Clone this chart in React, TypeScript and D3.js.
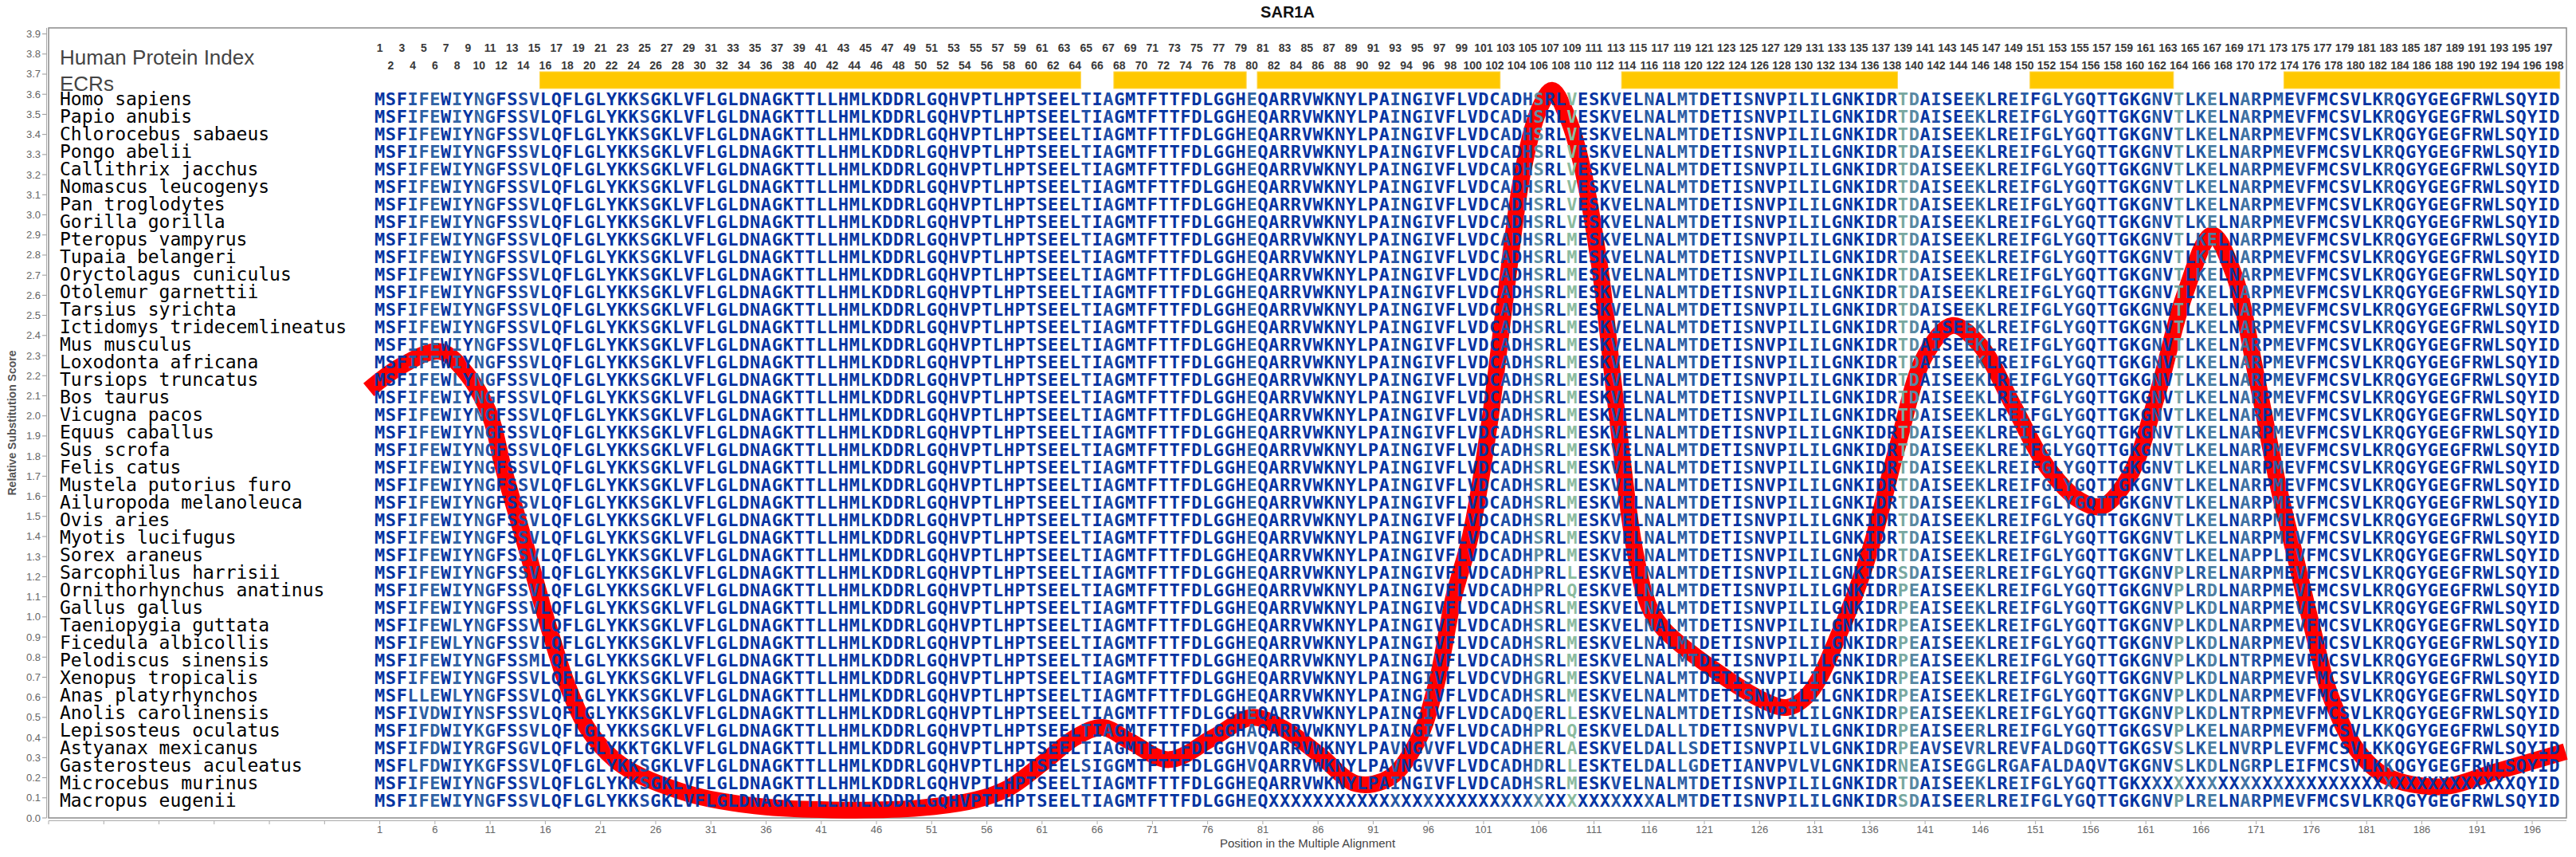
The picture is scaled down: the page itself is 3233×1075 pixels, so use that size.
import React from "react";
import * as d3 from "d3";

const W = 3233;
const H = 1075;

const title = "SAR1A";

const species = [
  "Homo sapiens", "Papio anubis", "Chlorocebus sabaeus", "Pongo abelii", "Callithrix jacchus",
  "Nomascus leucogenys", "Pan troglodytes", "Gorilla gorilla", "Pteropus vampyrus", "Tupaia belangeri",
  "Oryctolagus cuniculus", "Otolemur garnettii", "Tarsius syrichta", "Ictidomys tridecemlineatus", "Mus musculus",
  "Loxodonta africana", "Tursiops truncatus", "Bos taurus", "Vicugna pacos", "Equus caballus",
  "Sus scrofa", "Felis catus", "Mustela putorius furo", "Ailuropoda melanoleuca", "Ovis aries",
  "Myotis lucifugus", "Sorex araneus", "Sarcophilus harrisii", "Ornithorhynchus anatinus", "Gallus gallus",
  "Taeniopygia guttata", "Ficedula albicollis", "Pelodiscus sinensis", "Xenopus tropicalis", "Anas platyrhynchos",
  "Anolis carolinensis", "Lepisosteus oculatus", "Astyanax mexicanus", "Gasterosteus aculeatus", "Microcebus murinus",
  "Macropus eugenii",
];

const humanSeq =
  "MSFIFEWIYNGFSSVLQFLGLYKKSGKLVFLGLDNAGKTTLLHMLKDDRLGQHVPTLHPTSEELTIAGMTFTTFDLGGHE" +
  "QARRVWKNYLPAINGIVFLVDCADHSRLVESKVELNALMTDETISNVPILILGNKIDRTDAISEEKLREIFGLYGQTTGK" +
  "GNVTLKELNARPMEVFMCSVLKRQGYGEGFRWLSQYID";

// substitutions relative to the human sequence, one list per species
const substitutions: string[][] = [
  [], [], [], [], [], [], [], [],
  ["V109M"],
  ["V109M"],
  ["V109M"],
  ["V109M"],
  ["V109M"],
  ["V109M"],
  ["V109M"],
  ["V109M"],
  ["I8L", "V109M"],
  ["V109M"],
  ["V109M"],
  ["V109M"],
  ["V109M"],
  ["V109M"],
  ["V109M"],
  ["V109M"],
  ["V109M"],
  ["V109M"],
  ["S106P", "V109M", "R171P", "M173L"],
  ["S106P", "V109L", "T139S", "K146R", "T164P", "K166R"],
  ["S106P", "V109Q", "T139P", "D140E", "T164P", "K166R", "E167D"],
  ["V109M", "T139P", "D140E", "T164P", "E167D"],
  ["I8L", "V109M", "T139P", "D140E", "T164P", "E167D"],
  ["I8L", "V109M", "T139P", "D140E", "T164P", "E167D"],
  ["V15M", "V109M", "T139P", "D140E", "T164P", "E167D", "A170T"],
  ["A103V", "S106G", "V109M", "T139P", "D140E", "T164P", "E167D"],
  ["I4L", "F5L", "I8L", "V109M", "T139P", "D140E", "T164P", "E167D"],
  ["F5V", "E6D", "G11S", "H105Q", "S106E", "V109L", "T139P", "D140E", "T164P", "E167D", "A170T"],
  ["E6D", "N10K", "E80A", "S106P", "V109Q", "N116D", "M119L", "I129V", "T139P", "D140E", "K146R", "N162S", "T164P", "R183K"],
  ["E6D", "N10R", "S14G", "S25T", "E80V", "I93V", "I96V", "S106E", "V109A", "N116D", "M119L", "T120S", "I131V",
    "T139P", "D140E", "I142V", "E145V", "K146R", "I150V", "G152A", "Y154D", "N162S", "T164S", "A170V", "M173L", "R183K"],
  ["I4L", "E6D", "N10K", "T65S", "A67G", "E80V", "I93V", "I96V", "S106D", "V109L", "V113T", "N116D", "M119L", "T120G",
    "S125A", "I129V", "I131V", "T139N", "D140E", "E145G", "K146G", "E149G", "I150A", "G152A", "Y154D", "G155A", "T157V",
    "T164S", "E167D", "A170G", "M173L", "V175I", "R183K"],
  ["V109M", "X161-194"],
  ["X82-116", "T139S", "K146R", "T164P", "K166R"],
];

const ecrStart = [16, 68, 81, 114, 151, 174];
const ecrEnd = [64, 79, 102, 138, 163, 198];

// smoothed relative substitution score (red curve)
const curvePos = [0, 3, 6.5, 9, 11, 12.2, 14.4, 16.3, 18, 20, 23, 29, 35, 42, 50, 55, 58, 61, 64, 66.5, 69, 72.5,
  76.5, 80, 83, 86, 89.5, 92.5, 95, 96.7, 98.3, 99.8, 101.5, 103, 104.5, 106, 107.2, 108.5, 109.8, 111.5, 113,
  114.7, 116, 117.3, 121.8, 126.5, 128.5, 130.5, 133.4, 136, 138.5, 141, 143.5, 146, 149, 152, 155, 157, 159.5,
  162, 164.5, 167, 169, 171, 173, 174.4, 176.1, 177.7, 180.1, 182.7, 187.7, 192.7, 199];
const curveScore = [2.13, 2.25, 2.32, 2.2, 2.0, 1.74, 1.32, 0.95, 0.66, 0.43, 0.26, 0.12, 0.06, 0.04, 0.05, 0.09,
  0.15, 0.27, 0.4, 0.45, 0.38, 0.29, 0.4, 0.5, 0.44, 0.32, 0.17, 0.2, 0.38, 0.66, 1.1, 1.4, 1.95, 2.6, 3.2, 3.52,
  3.62, 3.5, 3.27, 2.75, 2.05, 1.33, 1.05, 0.94, 0.74, 0.58, 0.55, 0.62, 0.94, 1.33, 1.85, 2.3, 2.45, 2.35, 2.05,
  1.75, 1.58, 1.55, 1.7, 2.1, 2.6, 2.9, 2.7, 2.2, 1.65, 1.33, 0.94, 0.61, 0.34, 0.21, 0.155, 0.23, 0.33];

const yTicks = d3.range(0, 40).map((d) => d / 10);

function buildSeq(subs: string[]): string {
  const arr = humanSeq.split("");
  subs.forEach((s) => {
    const mx = s.match(/^X(\d+)-(\d+)$/);
    if (mx) {
      for (let p = +mx[1]; p <= +mx[2]; p++) arr[p - 1] = "X";
      return;
    }
    const m = s.match(/^([A-Z])(\d+)([A-Z])$/);
    if (m) arr[+m[2] - 1] = m[3];
  });
  return arr.join("");
}

const MONO = "'DejaVu Sans Mono', 'Liberation Mono', monospace";
const SANS = "'Liberation Sans', Arial, sans-serif";

export default function App() {
  const seqs = species.map((_, i) => buildSeq(substitutions[i]));
  const nCol = humanSeq.length;

  const x = d3.scaleLinear().domain([-29, 199.1]).range([61, 3221]);
  const y = d3.scaleLinear().domain([0, 3.93]).range([1026, 35]);
  const rowY = d3.scaleLinear().domain([0, species.length - 1]).range([132, 1012]);
  const colW = x(2) - x(1);

  // column variability -> colour
  const variability = d3.range(nCol).map((c) => {
    const vals = seqs.map((s) => s[c]).filter((ch) => ch !== "X");
    const counts = d3.rollup(vals, (v) => v.length, (d) => d);
    const top = d3.max(Array.from(counts.values())) || 0;
    return 1 - top / vals.length + (counts.size - 1) * 0.03;
  });
  const color = d3
    .scaleLinear<string>()
    .domain([0, 0.04, 0.12, 0.3, 0.5])
    .range(["#0634a2", "#1c4aa6", "#2f62a4", "#5888a2", "#95c49f"])
    .clamp(true);

  const line = d3
    .line<number>()
    .x((d, i) => x(curvePos[i]))
    .y((d) => y(d))
    .curve(d3.curveCatmullRom.alpha(0.5));

  const xTicks = d3.range(-29, 199, 5);

  return (
    <svg
      width={W}
      height={H}
      style={{ position: "absolute", left: 0, top: 0, display: "block", background: "#fff" }}
    >
      <rect x={0} y={0} width={W} height={H} fill="#fff" />
      <text x={1616} y={22} textAnchor="middle" fontFamily={SANS} fontWeight="bold" fontSize={20} fill="#111">
        {title}
      </text>

      {/* frame */}
      <rect x={61} y={35} width={3221 - 61} height={1026 - 35} fill="none" stroke="#8a8a8a" strokeWidth={1.5} />
      <line x1={58.5} x2={58.5} y1={35} y2={1026} stroke="#aaa" strokeWidth={1} />

      {/* y axis */}
      {yTicks.map((t) => (
        <g key={"yt" + t}>
          <line x1={53} x2={58.5} y1={y(t)} y2={y(t)} stroke="#999" strokeWidth={1} />
          <text x={51} y={y(t) + 4.5} textAnchor="end" fontFamily={SANS} fontSize={13} fill="#666">
            {t.toFixed(1)}
          </text>
        </g>
      ))}
      <text
        transform={`translate(20,${(35 + 1026) / 2}) rotate(-90)`}
        textAnchor="middle"
        fontFamily={SANS}
        fontWeight="bold"
        fontSize={14}
        fill="#555"
      >
        Relative Substitution Score
      </text>

      {/* x axis */}
      <line x1={61} x2={3221} y1={1029.5} y2={1029.5} stroke="#aaa" strokeWidth={1} />
      {xTicks.map((t) => (
        <g key={"xt" + t}>
          <line x1={x(t)} x2={x(t)} y1={1029.5} y2={1034} stroke="#aaa" strokeWidth={1} />
          {t >= 1 && (
            <text x={x(t)} y={1045} textAnchor="middle" fontFamily={SANS} fontSize={13} fill="#666">
              {t}
            </text>
          )}
        </g>
      ))}
      <text x={1641} y={1063} textAnchor="middle" fontFamily={SANS} fontSize={15} fill="#444">
        Position in the Multiple Alignment
      </text>

      {/* header labels */}
      <text x={75} y={81} fontFamily={SANS} fontSize={26} fill="#444">
        Human Protein Index
      </text>
      <text x={75} y={114} fontFamily={SANS} fontSize={26} fill="#444">
        ECRs
      </text>
      {d3.range(1, nCol + 1).map((p) => (
        <text
          key={"idx" + p}
          x={x(p)}
          y={p % 2 === 1 ? 65 : 87}
          textAnchor="middle"
          fontFamily={SANS}
          fontWeight="bold"
          fontSize={14}
          fill="#3a3a3a"
        >
          {p}
        </text>
      ))}
      {ecrStart.map((s, i) => (
        <rect
          key={"ecr" + i}
          x={x(s) - colW / 2}
          y={90}
          width={x(ecrEnd[i]) - x(s) + colW}
          height={21}
          fill="#ffc800"
          stroke="#ffd64a"
          strokeWidth={1}
        />
      ))}

      {/* species names */}
      {species.map((s, i) => (
        <text key={"sp" + i} x={75} y={rowY(i)} fontFamily={MONO} fontSize={23} fill="#000">
          {s}
        </text>
      ))}

      {/* red substitution curve */}
      <path d={line(curveScore) || ""} fill="none" stroke="#ff0000" strokeWidth={21} />

      {/* alignment letters */}
      {seqs.map((s, i) => (
        <g key={"row" + i} fontFamily={MONO} fontWeight="bold" fontSize={22} textAnchor="middle">
          {s.split("").map((ch, c) => (
            <text key={c} x={x(c + 1)} y={rowY(i)} fill={color(variability[c])}>
              {ch}
            </text>
          ))}
        </g>
      ))}
    </svg>
  );
}
